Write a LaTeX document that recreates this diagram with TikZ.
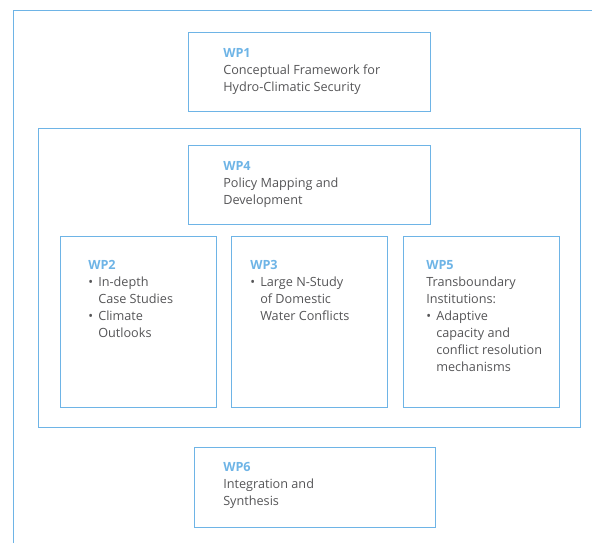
\documentclass[tikz,border=0pt]{standalone}
\usepackage{xcolor}
\usepackage{fontspec}
\setmainfont{Open Sans}

\definecolor{wpblue}{RGB}{110,180,230}
\definecolor{wpgrey}{RGB}{85,85,87}

\newcommand{\wpbul}{\makebox[7.5pt][l]{\textbullet}}
\newcommand{\wpind}{\hspace*{7.5pt}}
\newcommand{\wplabel}[1]{{\bfseries\color{wpblue}#1}}

\tikzset{
  wpframe/.style={draw=wpblue, line width=0.75pt},
  wptext/.style={anchor=north west, inner sep=0.75pt, align=left, text=wpgrey,
    font=\fontsize{9.5pt}{12.8pt}\selectfont}
}

\begin{document}
\begin{tikzpicture}[x=0.75pt,y=0.75pt,yscale=-1,xscale=1]
\useasboundingbox (0,0) rectangle (592,543);

%Shape: outer frame (top and left sides)
\draw [wpframe] (13,543) -- (13,10) -- (592,10) ;
%Shape: Rectangle WP1
\draw [wpframe] (188,32) rectangle (430,111) ;
%Shape: Rectangle group
\draw [wpframe] (38,128) rectangle (580,427) ;
%Shape: Rectangle WP4
\draw [wpframe] (188,145) rectangle (430,224) ;
%Shape: Rectangle WP2
\draw [wpframe] (60,236) rectangle (216,407) ;
%Shape: Rectangle WP3
\draw [wpframe] (231,236) rectangle (387,407) ;
%Shape: Rectangle WP5
\draw [wpframe] (403,236) rectangle (559,407) ;
%Shape: Rectangle WP6
\draw [wpframe] (194,447) rectangle (435,527) ;

% Text Node
\node [wptext] (wp1) at (222,47) {\wplabel{WP1}\\Conceptual Framework for\\Hydro-Climatic Security};
% Text Node
\node [wptext] (wp4) at (222,160) {\wplabel{WP4}\\Policy Mapping and\\Development};
% Text Node
\node [wptext] (wp2) at (87,259) {\wplabel{WP2}\\\wpbul In-depth\\\wpind Case Studies\\\wpbul Climate\\\wpind Outlooks};
% Text Node
\node [wptext] (wp3) at (249,259) {\wplabel{WP3}\\\wpbul Large N-Study\\\wpind of Domestic\\\wpind Water Conflicts};
% Text Node
\node [wptext] (wp5) at (425,259) {\wplabel{WP5}\\Transboundary\\Institutions:\\\wpbul Adaptive\\\wpind capacity and\\\wpind conflict resolution\\\wpind mechanisms};
% Text Node
\node [wptext] (wp6) at (222,461) {\wplabel{WP6}\\Integration and\\Synthesis};

\end{tikzpicture}
\end{document}
